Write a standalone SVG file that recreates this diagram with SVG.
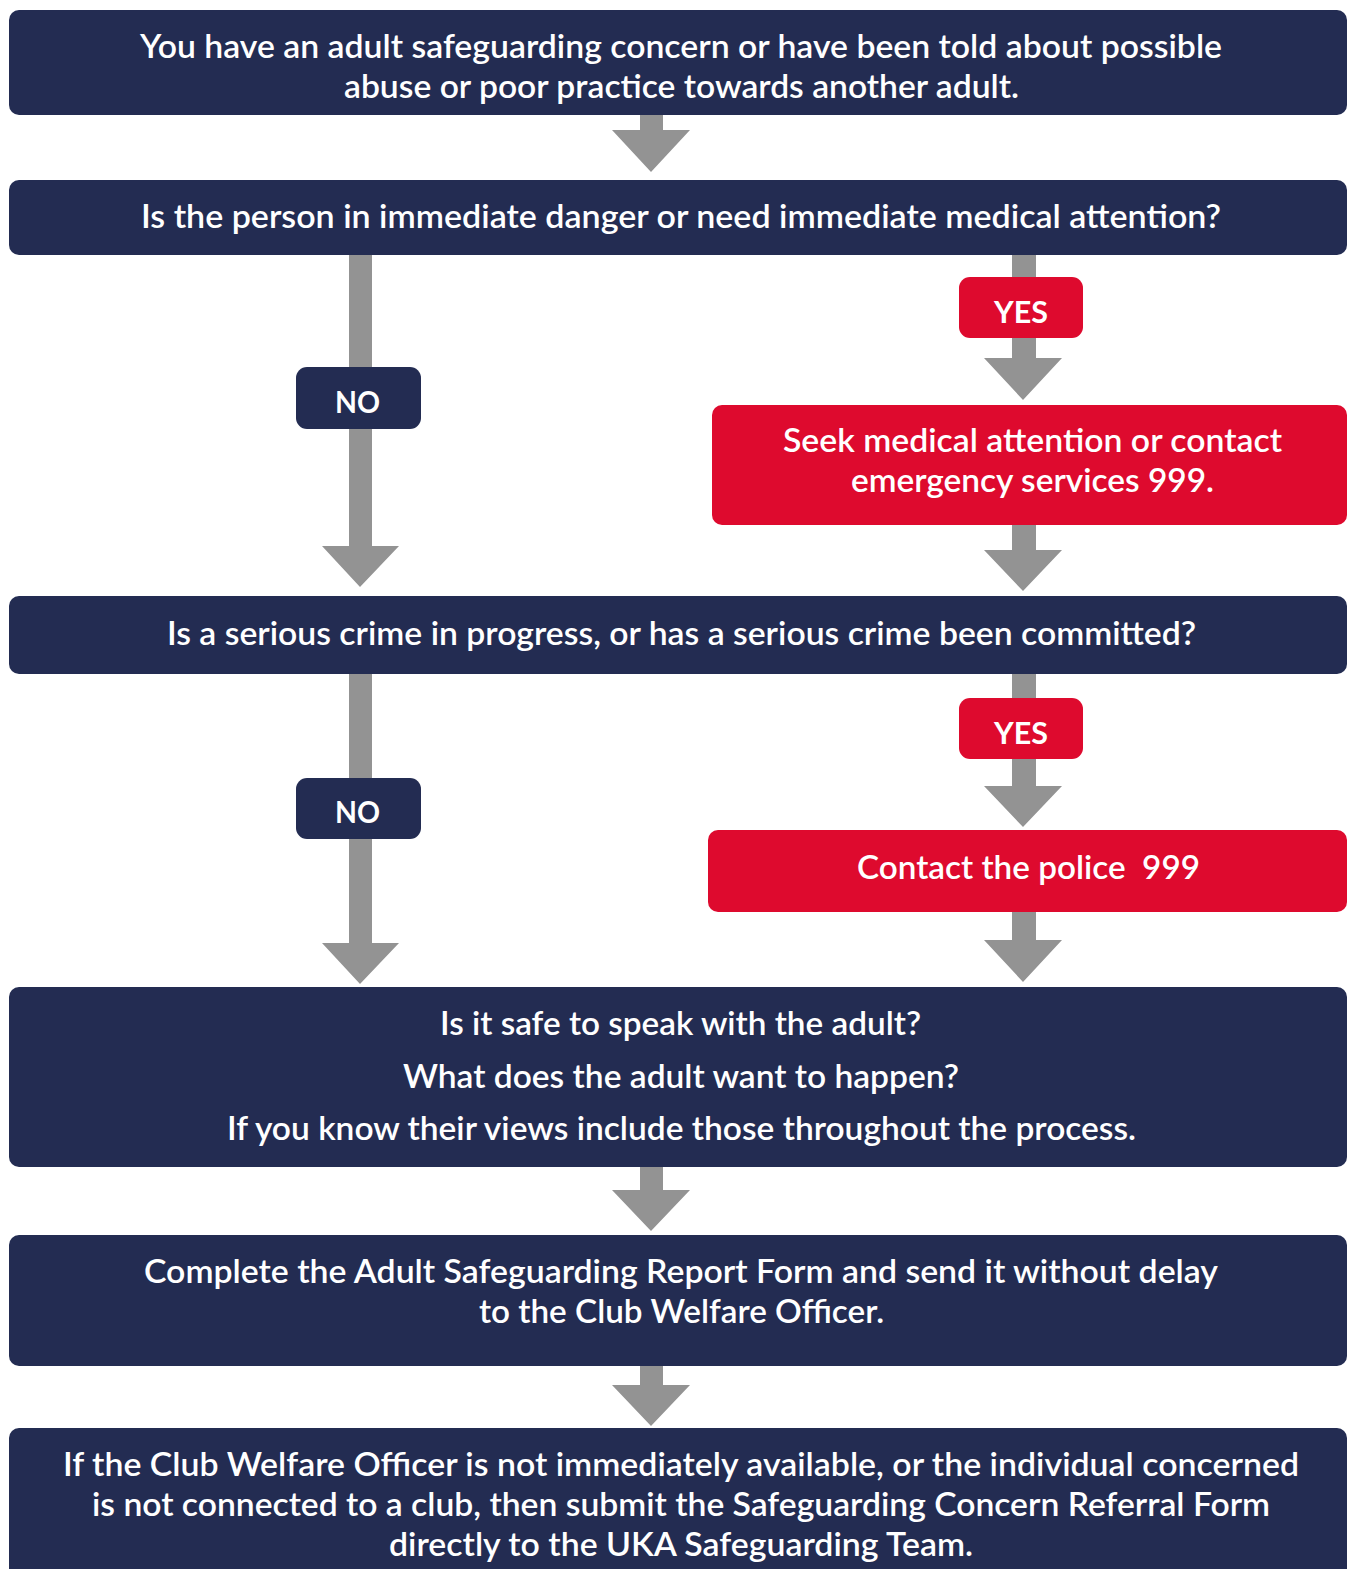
<svg xmlns="http://www.w3.org/2000/svg" width="1347" height="1569" viewBox="0 0 1347 1569">
<style>
.navy{fill:#232c52}
.red{fill:#de0a2e}
.arr{fill:#939393}
text{font-family:Lato,"Open Sans","Liberation Sans",sans-serif;font-weight:600;fill:#ffffff;font-size:32px}
.lbl{font-size:30px;font-weight:700}
</style>
<rect width="1347" height="1569" fill="#ffffff"/>
<g id="connectors">
<polygon class="arr" points="640,115 663,115 663,130 690,130 651,172 612,130 640,130"/>
<polygon class="arr" points="349,255 372,255 372,546 399,546 360,587 322,546 349,546"/>
<polygon class="arr" points="1012,255 1036,255 1036,358 1062,358 1023,400 984,358 1012,358"/>
<polygon class="arr" points="1012,525 1036,525 1036,550 1062,550 1023,591 984,550 1012,550"/>
<polygon class="arr" points="349,674 372,674 372,943 399,943 360,984 322,943 349,943"/>
<polygon class="arr" points="1012,674 1036,674 1036,786 1062,786 1023,827 984,786 1012,786"/>
<polygon class="arr" points="1012,912 1036,912 1036,940 1062,940 1023,982 984,940 1012,940"/>
<polygon class="arr" points="640,1167 663,1167 663,1190 690,1190 651,1231 612,1190 640,1190"/>
<polygon class="arr" points="640,1366 663,1366 663,1385 690,1385 651,1426 612,1385 640,1385"/>
</g>
<g id="n1">
<rect class="navy" x="9" y="10" width="1338" height="105" rx="10"/>
<text x="140" y="58" textLength="1082" lengthAdjust="spacingAndGlyphs">You have an adult safeguarding concern or have been told about possible</text>
<text x="344" y="98" textLength="675" lengthAdjust="spacingAndGlyphs">abuse or poor practice towards another adult.</text>
</g>
<g id="n2">
<rect class="navy" x="9" y="180" width="1338" height="75" rx="10"/>
<text x="141" y="228" textLength="1080" lengthAdjust="spacingAndGlyphs">Is the person in immediate danger or need immediate medical attention?</text>
</g>
<g id="no1">
<rect class="navy" x="296" y="367" width="125" height="62" rx="11"/>
<text class="lbl" x="335" y="413" textLength="45" lengthAdjust="spacingAndGlyphs">NO</text>
</g>
<g id="yes1">
<rect class="red" x="959" y="277" width="124" height="61" rx="11"/>
<text class="lbl" x="994" y="323" textLength="54" lengthAdjust="spacingAndGlyphs">YES</text>
</g>
<g id="n3">
<rect class="red" x="712" y="405" width="635" height="120" rx="10"/>
<text x="783" y="452" textLength="499" lengthAdjust="spacingAndGlyphs">Seek medical attention or contact</text>
<text x="851" y="492" textLength="363" lengthAdjust="spacingAndGlyphs">emergency services 999.</text>
</g>
<g id="n4">
<rect class="navy" x="9" y="596" width="1338" height="78" rx="10"/>
<text x="167" y="645" textLength="1029" lengthAdjust="spacingAndGlyphs">Is a serious crime in progress, or has a serious crime been committed?</text>
</g>
<g id="no2">
<rect class="navy" x="296" y="778" width="125" height="61" rx="11"/>
<text class="lbl" x="335" y="823" textLength="45" lengthAdjust="spacingAndGlyphs">NO</text>
</g>
<g id="yes2">
<rect class="red" x="959" y="698" width="124" height="61" rx="11"/>
<text class="lbl" x="994" y="744" textLength="54" lengthAdjust="spacingAndGlyphs">YES</text>
</g>
<g id="n5">
<rect class="red" x="708" y="830" width="639" height="82" rx="10"/>
<text x="857" y="879" textLength="343" lengthAdjust="spacingAndGlyphs" xml:space="preserve">Contact the police  999</text>
</g>
<g id="n6">
<rect class="navy" x="9" y="987" width="1338" height="180" rx="10"/>
<text x="440" y="1035" textLength="481" lengthAdjust="spacingAndGlyphs">Is it safe to speak with the adult?</text>
<text x="403" y="1088" textLength="556" lengthAdjust="spacingAndGlyphs">What does the adult want to happen?</text>
<text x="227" y="1140" textLength="909" lengthAdjust="spacingAndGlyphs">If you know their views include those throughout the process.</text>
</g>
<g id="n7">
<rect class="navy" x="9" y="1235" width="1338" height="131" rx="10"/>
<text x="144" y="1283" textLength="1074" lengthAdjust="spacingAndGlyphs">Complete the Adult Safeguarding Report Form and send it without delay</text>
<text x="479" y="1323" textLength="405" lengthAdjust="spacingAndGlyphs">to the Club Welfare Officer.</text>
</g>
<g id="n8">
<rect class="navy" x="9" y="1428" width="1338" height="160" rx="10"/>
<text x="63" y="1476" textLength="1236" lengthAdjust="spacingAndGlyphs">If the Club Welfare Officer is not immediately available, or the individual concerned</text>
<text x="92" y="1516" textLength="1178" lengthAdjust="spacingAndGlyphs">is not connected to a club, then submit the Safeguarding Concern Referral Form</text>
<text x="389" y="1556" textLength="584" lengthAdjust="spacingAndGlyphs">directly to the UKA Safeguarding Team.</text>
</g>
</svg>
